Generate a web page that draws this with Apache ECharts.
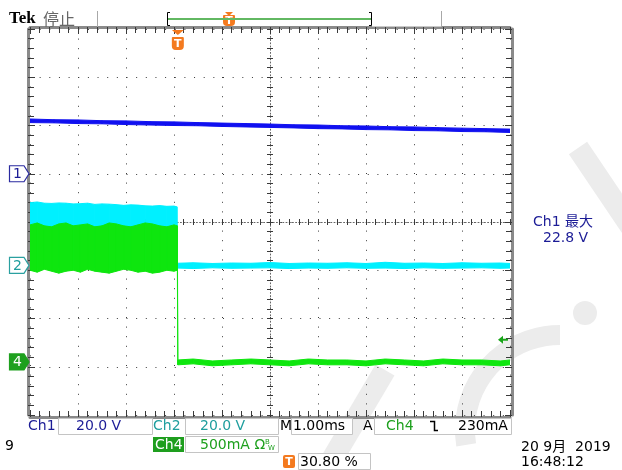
<!DOCTYPE html>
<html><head><meta charset="utf-8">
<script src="https://cdn.jsdelivr.net/npm/echarts@6/dist/echarts.min.js"></script>
<style>html,body{margin:0;padding:0;background:#fff}#c{width:622px;height:470px}</style>
</head><body><div id="c"></div>
<script>
// ---- channel settings (units per division, position in divisions) ----
const ch1Scale = 20, ch1Offset = 1.0;     // V/div
const ch2Scale = 20, ch2Offset = -0.9;    // V/div
const ch4Scale = 0.5, ch4Offset = -2.9;   // A/div
const triggerTime = 3.08;                 // ms from left edge (30.80 %)
const triggerLevel = 0.23;                // A on Ch4

// ---- Ch1 (blue), volts ----
const ch1Time = [0,0.5,1,1.5,2,2.5,3,3.5,4,4.5,5,5.5,6,6.5,7,7.5,8,8.5,9,9.5,10];
const ch1High = [22.7,22.4,22.3,22.0,21.9,21.6,21.5,21.2,21.0,20.8,20.6,20.3,20.2,19.9,19.8,19.5,19.4,19.1,18.9,18.7,18.5];
const ch1Low  = [21.2,21.1,20.8,20.7,20.4,20.2,20.0,19.9,19.6,19.4,19.2,19.0,18.7,18.6,18.3,18.2,17.9,17.8,17.5,17.4,17.1];

// ---- Ch2 (cyan), volts ----
const ch2Time = [0,0.15,0.3,0.45,0.6,0.75,0.9,1.05,1.2,1.35,1.5,1.65,1.8,1.95,2.1,2.25,2.4,2.55,2.7,2.85,3.0,3.06,
                 3.07,3.4,3.8,4.2,4.6,5.0,5.4,5.8,6.2,6.6,7.0,7.4,7.8,8.2,8.6,9.0,9.4,9.8,10];
const ch2High = [26.0,26.3,25.8,25.7,25.9,25.8,25.5,25.6,25.8,25.3,25.5,25.4,25.2,24.9,25.1,25.0,24.7,24.6,24.8,24.5,24.6,24.3,
                 0.9,1.1,0.8,1.0,0.9,1.2,0.8,1.0,0.9,1.1,0.8,1.3,0.9,1.0,0.8,1.1,0.9,1.0,0.8];
const ch2Low  = [-1.0,-1.0,-1.0,-1.0,-1.0,-1.0,-1.0,-1.0,-1.0,-1.0,-1.0,-1.0,-1.0,-1.0,-1.0,-1.0,-1.0,-1.0,-1.0,-1.0,-1.0,-1.0,
                 -1.1,-1.3,-1.0,-1.2,-1.1,-1.0,-1.3,-1.1,-1.2,-1.0,-1.2,-1.1,-1.3,-1.0,-1.2,-1.1,-1.0,-1.2,-1.1];

// ---- Ch4 (green), amps ----
const ch4Time = [0,0.15,0.3,0.45,0.6,0.75,0.9,1.05,1.2,1.35,1.5,1.65,1.8,1.95,2.1,2.25,2.4,2.55,2.7,2.85,3.0,3.07,
                 3.08,3.4,3.8,4.2,4.6,5.0,5.4,5.8,6.2,6.6,7.0,7.4,7.8,8.2,8.6,9.0,9.4,9.8,10];
const ch4High = [1.42,1.44,1.41,1.40,1.43,1.44,1.41,1.42,1.43,1.40,1.41,1.44,1.43,1.41,1.40,1.42,1.44,1.43,1.41,1.40,1.42,1.41,
                 0.02,0.03,0.01,0.02,0.03,0.02,0.01,0.03,0.02,0.02,0.01,0.03,0.02,0.01,0.03,0.02,0.02,0.01,0.02];
const ch4Low  = [0.95,0.93,0.96,0.94,0.92,0.94,0.95,0.93,0.96,0.94,0.93,0.92,0.94,0.96,0.95,0.93,0.94,0.92,0.93,0.95,0.94,0.95,
                 -0.03,-0.02,-0.04,-0.03,-0.02,-0.03,-0.04,-0.02,-0.03,-0.03,-0.04,-0.02,-0.03,-0.04,-0.02,-0.03,-0.03,-0.04,-0.03];

const chart = echarts.init(document.getElementById('c'), null, {renderer:'canvas'});

// band between low and high envelopes, drawn segment by segment through the axes
function band(id, times, low, high, scale, offset, color, z) {
  const data = [];
  for (let i = 0; i < times.length - 1; i++) {
    data.push([times[i], low[i]/scale + offset, high[i]/scale + offset,
               times[i+1], low[i+1]/scale + offset, high[i+1]/scale + offset]);
  }
  return {
    type:'custom', id:id, z:z, silent:true, animation:false, clip:true,
    encode:{x:[0,3], y:[1,2,4,5]},
    data:data,
    renderItem:function(params, api){
      const a = api.coord([api.value(0), api.value(1)]);
      const b = api.coord([api.value(3), api.value(4)]);
      const c = api.coord([api.value(3), api.value(5)]);
      const d = api.coord([api.value(0), api.value(2)]);
      return {type:'polygon', shape:{points:[a,b,c,d]},
              style:{fill:color, stroke:color, lineWidth:1}};
    }
  };
}

const dot = '#3a3a3a';
function edgeX(pos){ return {type:'value', min:0, max:10, interval:1, position:pos, offset:2,
  axisLine:{show:true, onZero:false, lineStyle:{color:'#8a8a8a', width:3}},
  axisTick:{show:true, inside:true, length:7, lineStyle:{color:dot}},
  minorTick:{show:true, splitNumber:5, length:6, lineStyle:{color:dot}},
  axisLabel:{show:false}, splitLine:{show:false}}; }
function edgeY(pos){ return {type:'value', min:-4, max:4, interval:1, position:pos, offset:2,
  axisLine:{show:true, onZero:false, lineStyle:{color:'#8a8a8a', width:3}},
  axisTick:{show:true, inside:true, length:7, lineStyle:{color:dot}},
  minorTick:{show:true, splitNumber:5, length:6, lineStyle:{color:dot}},
  axisLabel:{show:false}, splitLine:{show:false}}; }
function centerX(inside, line){ return {type:'value', min:0, max:10, interval:1, position:'bottom', offset:-193,
  axisLine:{show:line, onZero:false, lineStyle:{color:'#666', width:1, type:[1,2.2]}},
  axisTick:{show:true, inside:inside, length:3, lineStyle:{color:dot}},
  minorTick:{show:true, splitNumber:5, length:3, lineStyle:{color:dot}},
  axisLabel:{show:false}, splitLine:{show:false}}; }
function centerY(inside, line){ return {type:'value', min:-4, max:4, interval:1, position:'left', offset:-240,
  axisLine:{show:line, onZero:false, lineStyle:{color:'#666', width:1, type:[1,2.2]}},
  axisTick:{show:true, inside:inside, length:3, lineStyle:{color:dot}},
  minorTick:{show:true, splitNumber:5, length:3, lineStyle:{color:dot}},
  axisLabel:{show:false}, splitLine:{show:false}}; }

const xMain = edgeX('bottom');
xMain.splitLine = {show:true, lineStyle:{color:dot, width:1, type:[1,8.6]}};
const yMain = edgeY('left');
yMain.splitLine = {show:true, lineStyle:{color:dot, width:1, type:[1,8.65]}};

chart.setOption({
  animation:false,
  backgroundColor:'#ffffff',
  grid:{left:30, top:29, width:480, height:386},
  xAxis:[xMain, edgeX('top'), centerX(false,true), centerX(true,false)],
  yAxis:[yMain, edgeY('right'), centerY(false,true), centerY(true,false)],
  series:[
    band('ch2', ch2Time, ch2Low, ch2High, ch2Scale, ch2Offset, '#00f0ff', 5),
    band('ch4', ch4Time, ch4Low, ch4High, ch4Scale, ch4Offset, '#0ee60e', 6),
    band('ch1', ch1Time, ch1Low, ch1High, ch1Scale, ch1Offset, '#1010f0', 7)
  ]
});

const px = (t, d) => chart.convertToPixel({xAxisIndex:0, yAxisIndex:0}, [t, d]);
const F = '"DejaVu Sans", sans-serif';
function txt(x, y, s, color, size, extra) {
  return {type:'text', x:x, y:y, z:100, silent:true,
    style:Object.assign({text:s, fill:color, font:(size||14)+'px '+F, align:'left', verticalAlign:'middle',
      textAlign:'left', textVerticalAlign:'middle'}, extra||{})};
}
function box(x1, y1, x2, y2, fill, stroke) {
  return {type:'rect', z:90, silent:true, shape:{x:x1+0.5, y:y1+0.5, width:x2-x1, height:y2-y1},
    style:{fill:fill||'#fff', stroke:stroke||'#c4c4c4', lineWidth:1}};
}
function chMarker(y, label, stroke, fill, tcol) {
  return [
    {type:'polygon', z:95, silent:true, shape:{points:[[9.5,y-8],[24,y-8],[29,y],[24,y+8],[9.5,y+8]]},
     style:{fill:fill, stroke:stroke, lineWidth:1.2}},
    txt(13, y+0.5, label, tcol, 14)
  ];
}
function tIcon(x, ytop, h) {
  return [
    {type:'rect', z:95, silent:true, shape:{x:x-6, y:ytop, width:12, height:h, r:[1,1,4,4]}, style:{fill:'#f47a1f'}},
    {type:'text', z:96, silent:true, x:x, y:ytop+h/2+0.5, style:{text:'T', fill:'#fff', font:'bold 11px '+F,
      align:'center', verticalAlign:'middle', textAlign:'center', textVerticalAlign:'middle'}}
  ];
}

const y1 = px(0, ch1Offset)[1], y2 = px(0, ch2Offset)[1], y4 = px(0, ch4Offset)[1];
const xt = px(triggerTime, 0)[0];
const yt = px(0, triggerLevel/ch4Scale + ch4Offset)[1];

const wm = '#ececec';
let g = [
  // watermark (light gray, behind everything)
  {type:'line', z:-1, silent:true, shape:{x1:578, y1:148, x2:640, y2:240}, style:{stroke:wm, lineWidth:22}},
  {type:'circle', z:-1, silent:true, shape:{cx:585, cy:313, r:12}, style:{fill:wm}},
  {type:'arc', z:-1, silent:true, shape:{cx:560, cy:430, r:95, startAngle:Math.PI*0.95, endAngle:Math.PI*1.5}, style:{stroke:wm, lineWidth:20, fill:null}},
  {type:'line', z:-1, silent:true, shape:{x1:385, y1:370, x2:320, y2:480}, style:{stroke:wm, lineWidth:22}},

  // header
  {type:'text', z:100, x:9, y:19, style:{text:'Tek', fill:'#000', font:'bold 17px "Liberation Serif", serif', verticalAlign:'middle', textVerticalAlign:'middle'}},
  txt(43, 19, '停止', '#666', 16, {font:'16px "Noto Sans CJK SC", sans-serif'}),
  {type:'line', z:100, shape:{x1:97.5, y1:11, x2:97.5, y2:27}, style:{stroke:'#a8a8a8', lineWidth:1}},
  {type:'line', z:100, shape:{x1:441.5, y1:11, x2:441.5, y2:27}, style:{stroke:'#a8a8a8', lineWidth:1}},
  {type:'line', z:100, shape:{x1:168, y1:19, x2:372, y2:19}, style:{stroke:'#62b862', lineWidth:2}},
  {type:'polyline', z:100, shape:{points:[[170,12.5],[167.5,12.5],[167.5,25.5],[170,25.5]]}, style:{stroke:'#000', lineWidth:1, fill:null}},
  {type:'polyline', z:100, shape:{points:[[369,12.5],[371.5,12.5],[371.5,25.5],[369,25.5]]}, style:{stroke:'#000', lineWidth:1, fill:null}},
  {type:'line', z:100, shape:{x1:372, y1:26.5, x2:441, y2:26.5}, style:{stroke:'#c8c8c8', lineWidth:1}},
  {type:'polygon', z:100, shape:{points:[[225,12],[233,12],[229,16]]}, style:{fill:'#f47a1f'}},
].concat(tIcon(229, 15, 11));

// trigger position marker
g.push({type:'polygon', z:100, shape:{points:[[xt-6,30],[xt+6,30],[xt,35]]}, style:{fill:'#f47a1f'}});
g = g.concat(tIcon(xt, 37, 13));
// trigger level arrow
g.push({type:'polygon', z:100, shape:{points:[[498,yt],[503,yt-4],[503,yt+4]]}, style:{fill:'#1aa51a'}});
g.push({type:'line', z:100, shape:{x1:502, y1:yt, x2:508, y2:yt}, style:{stroke:'#1aa51a', lineWidth:2}});
// channel markers
g = g.concat(chMarker(y1, '1', '#2a2aa0', '#ffffff', '#1c1c96'));
g = g.concat(chMarker(y2, '2', '#2aa0a0', '#ffffff', '#1f9e9e'));
g = g.concat(chMarker(y4, '4', '#1ea01e', '#1ea01e', '#ffffff'));

// readouts
g.push(box(58, 418, 152, 434), box(185, 418, 278, 434), box(291, 418, 352, 434), box(374, 418, 511, 434),
       box(185, 436, 278, 452), box(298, 453, 370, 469),
       {type:'rect', z:91, silent:true, shape:{x:153, y:437, width:31, height:15}, style:{fill:'#1e9e1e'}});
g.push(txt(28, 426, 'Ch1', '#1c1c96'), txt(76, 426, '20.0 V', '#1c1c96'),
       txt(153, 426, 'Ch2', '#1f9e9e'), txt(200, 426, '20.0 V', '#1f9e9e'),
       txt(280, 426, 'M', '#000'), txt(293, 426, '1.00ms', '#000'),
       txt(363, 426, 'A', '#000'), txt(386, 426, 'Ch4', '#1ea01e'), txt(458, 426, '230mA', '#000'),
       txt(155, 445, 'Ch4', '#ffffff'), txt(200, 445, '500mA Ω', '#1ea01e'),
       txt(265, 442, 'B', '#1ea01e', 7), txt(268, 448, 'W', '#1ea01e', 7),
       txt(300, 462, '30.80 %', '#000'),
       txt(5, 446, '9', '#000'),
       txt(521, 447, '20 9月  2019', '#000', 14, {font:'14px "DejaVu Sans", "Noto Sans CJK SC", sans-serif'}),
       txt(521, 462, '16:48:12', '#000'),
       txt(533, 222, 'Ch1 最大', '#1c1c96', 14, {font:'14px "DejaVu Sans", "Noto Sans CJK SC", sans-serif'}),
       txt(543, 238, '22.8 V', '#1c1c96'));
g.push({type:'polyline', z:100, shape:{points:[[430,421.5],[434.5,421.5],[434.5,430.5],[438,430.5]]}, style:{stroke:'#000', lineWidth:1.5, fill:null}});
g = g.concat(tIcon(289, 455, 13).map(e => { if (e.type==='rect') e.shape.r = 2; return e; }));

chart.setOption({graphic:{elements:g}});
</script></body></html>
